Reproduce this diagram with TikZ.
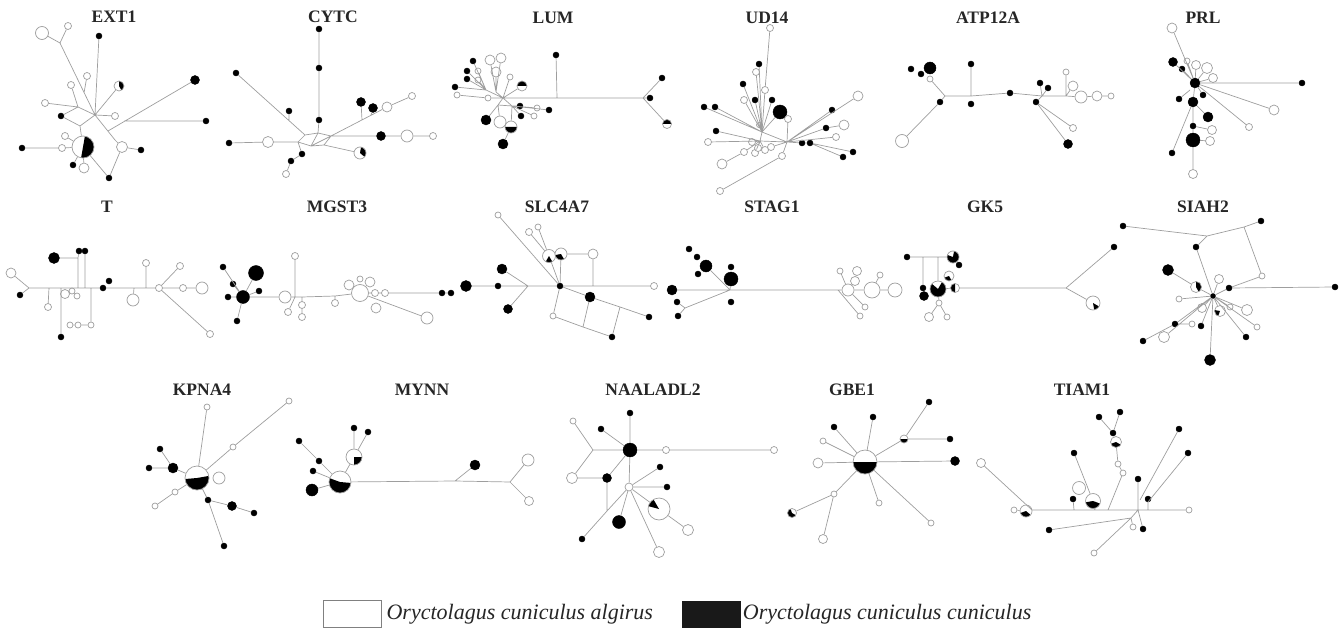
\documentclass[tikz,border=0pt]{standalone}
\usepackage{fontspec}
\setmainfont{Liberation Serif}
\usetikzlibrary{positioning}
\definecolor{linegray}{gray}{0.62}
\tikzset{
  link/.style={draw=linegray, line width=0.7pt},
  wo/.style={circle, draw=linegray, fill=white, line width=0.7pt, inner sep=0pt, minimum size=#1},
  wo/.default=7pt,
  bk/.style={circle, draw=black, fill=black, inner sep=0pt, minimum size=#1},
  bk/.default=6pt,
  pie/.style n args={3}{wo=#1, path picture={\fill[black] (path picture bounding box.center) -- ++(#2:30pt) arc[start angle=#2, end angle=#3, radius=30pt] -- cycle;}},
  title/.style={font=\fontsize{17.5}{17.5}\selectfont\bfseries, text=black!85},
  legtext/.style={font=\fontsize{22}{22}\selectfont\itshape, text=black!85, inner sep=0pt}
}
\begin{document}
\begin{tikzpicture}[x=1pt, y=-1pt]
\useasboundingbox (0, 0) rectangle (1343, 631);

% EXT1
\node[title] at (114, 17) (extT) {EXT1};
\coordinate (extj1) at (60, 43);
\coordinate (exth) at (95, 115);
\coordinate (extj2) at (84, 93);
\coordinate (extj3) at (78, 107);
\coordinate (extj4) at (80, 126);
\coordinate (extj5) at (108, 131);
\coordinate (extj6) at (115, 140);
\coordinate (extj7) at (124, 121);
\node[wo=13pt] at (42, 33) (ext1) {};
\node[wo] at (68, 26) (ext2) {};
\node[bk] at (99, 36) (ext3) {};
\node[wo] at (87, 76) (ext4) {};
\node[wo] at (71, 85) (ext5) {};
\node[wo] at (45, 103) (ext6) {};
\node[bk] at (61, 116) (ext7) {};
\node[pie={22pt}{80}{-100}] at (83, 147) (ext8) {};
\node[wo] at (62, 148) (ext9) {};
\node[bk] at (22, 148) (ext10) {};
\node[wo] at (65, 136) (ext11) {};
\node[bk] at (73, 165) (ext12) {};
\node[wo=10pt] at (84, 168) (ext13) {};
\node[wo=11pt] at (122, 147) (ext14) {};
\node[bk] at (141, 150) (ext15) {};
\node[bk] at (109, 178) (ext16) {};
\node[pie={10pt}{90}{-60}] at (119, 86) (ext17) {};
\node[wo] at (115, 116) (ext18) {};
\node[bk=9pt] at (195, 80) (ext19) {};
\node[bk] at (206, 121) (ext20) {};
\draw[link] (ext1) -- (extj1) (ext2) -- (extj1) (extj1) -- (exth) (ext3) -- (exth)
  (ext4) -- (extj2) (ext5) -- (extj3) (ext6) -- (extj3) (extj3) -- (exth)
  (ext7) -- (extj3) (ext7) -- (extj4) (extj4) -- (exth) (extj4) -- (ext8)
  (ext8) -- (ext9) (ext9) -- (ext10) (ext11) -- (ext8) (ext12) -- (ext8) (ext13) -- (ext8)
  (exth) -- (extj6) (extj6) -- (ext14) (ext14) -- (ext15) (ext14) -- (ext16) (ext8) -- (ext16)
  (exth) -- (ext17) (exth) -- (ext18) (extj5) -- (ext19) (extj7) -- (ext20);

% CYTC
\node[title] at (333, 17) (cytT) {CYTC};
\coordinate (cytq1) at (305, 135);
\coordinate (cytq2) at (318, 133);
\coordinate (cytq3) at (331, 136);
\coordinate (cytq4) at (324, 145);
\coordinate (cytq5) at (311, 146);
\coordinate (cytq6) at (298, 142);
\coordinate (cytj1) at (289, 121);
\coordinate (cytj2) at (362, 120);
\coordinate (cytj3) at (371, 115);
\node[bk] at (319, 29) (cyt1) {};
\node[bk] at (319, 68) (cyt2) {};
\node[bk] at (319, 120) (cyt3) {};
\node[bk] at (236, 73) (cyt4) {};
\node[bk] at (289, 111) (cyt5) {};
\node[bk] at (229, 143) (cyt6) {};
\node[wo=11pt] at (268, 142) (cyt7) {};
\node[bk] at (302, 154) (cyt8) {};
\node[bk] at (291, 161) (cyt9) {};
\node[wo] at (286, 174) (cyt10) {};
\node[bk=9pt] at (381, 136) (cyt11) {};
\node[wo=12pt] at (407, 136) (cyt12) {};
\node[wo] at (433, 136) (cyt13) {};
\node[wo=10pt] at (387, 107) (cyt14) {};
\node[wo] at (412, 96) (cyt15) {};
\node[bk=9pt] at (361, 102) (cyt16) {};
\node[bk=9pt] at (373, 108) (cyt17) {};
\node[pie={12pt}{80}{-40}] at (360, 153) (cyt18) {};
\draw[link] (cyt1) -- (cyt2) -- (cyt3) -- (cytq2)
  (cytq1) -- (cytq2) -- (cytq3) -- (cytq4) -- (cytq5) -- (cytq6) -- (cytq1)
  (cytq2) -- (cytq5) (cytq3) -- (cytq5)
  (cyt4) -- (cytq1) (cyt5) -- (cytj1)
  (cyt6) -- (cyt7) -- (cytq6) (cytq6) -- (cyt8) -- (cyt9) -- (cyt10)
  (cytq3) -- (cyt11) -- (cyt12) -- (cyt13)
  (cytq3) -- (cyt14) -- (cyt15) (cyt16) -- (cytj2) (cyt17) -- (cytj3)
  (cytq4) -- (cyt18);

% LUM
\node[title] at (553, 18) (lumT) {LUM};
\coordinate (lumh) at (503, 98);
\coordinate (lumh2) at (498, 105);
\coordinate (lumh3) at (512, 106);
\coordinate (lumj1) at (557, 98);
\coordinate (lumj2) at (643, 98);
\coordinate (lumj3) at (486, 90);
\coordinate (lumj4) at (496, 92);
\node[bk] at (556, 55) (lum1) {};
\node[bk] at (662, 78) (lum2) {};
\node[bk] at (650, 98) (lum3) {};
\node[pie={9pt}{0}{180}] at (667, 124) (lum4) {};
\node[bk] at (473, 61) (lum5) {};
\node[bk] at (467, 71) (lum6) {};
\node[wo=6pt] at (478, 71) (lum7) {};
\node[bk] at (467, 79) (lum8) {};
\node[wo=6pt] at (478, 80) (lum9) {};
\node[bk] at (455, 87) (lum10) {};
\node[wo=6pt] at (457, 95) (lum11) {};
\node[wo=10pt] at (490, 60) (lum12) {};
\node[wo=10pt] at (501, 58) (lum13) {};
\node[wo=10pt] at (496, 72) (lum14) {};
\node[wo=6pt] at (510, 77) (lum15) {};
\node[pie={10pt}{0}{180}] at (522, 86) (lum16) {};
\node[wo=6pt] at (488, 98) (lum17) {};
\node[bk] at (520, 106) (lum19) {};
\node[wo=6pt] at (537, 108) (lum20) {};
\node[bk] at (549, 110) (lum21) {};
\node[bk] at (521, 116) (lum22) {};
\node[wo=6pt] at (534, 116) (lum23) {};
\node[bk=10pt] at (486, 120) (lum24) {};
\node[wo=12pt] at (500, 122) (lum25) {};
\node[pie={12pt}{180}{360}] at (511, 127) (lum26) {};
\node[bk=10pt] at (503, 144) (lum27) {};
\draw[link] (lumh) -- (lumj1) -- (lumj2) (lumj1) -- (lum1)
  (lumj2) -- (lum2) (lumj2) -- (lum3) (lumj2) -- (lum4)
  (lum5) -- (lumj3) (lum6) -- (lumj3) (lum7) -- (lumj3) (lum8) -- (lumj3) (lum9) -- (lumj3)
  (lum10) -- (lumj3) (lumj3) -- (lumh) (lum11) -- (lum17) -- (lumh)
  (lum12) -- (lumj4) (lum13) -- (lumj4) (lum14) -- (lumj4) (lumj4) -- (lumh)
  (lum15) -- (lumh) (lum16) -- (lumh) (lumh) -- (lumh2) -- (lumh3) -- (lumh)
  (lumh3) -- (lum19) (lumh3) -- (lum20) (lumh3) -- (lum21) (lumh3) -- (lum22) (lumh3) -- (lum23)
  (lumh2) -- (lum24) (lumh2) -- (lum25) (lumh3) -- (lum26) -- (lum27);

% UD14
\node[title] at (767, 18) (udT) {UD14};
\coordinate (udh1) at (762, 132);
\coordinate (udh2) at (787, 142);
\coordinate (udh3) at (760, 141);
\node[wo] at (770, 28) (ud1) {};
\node[bk] at (759, 64) (ud2) {};
\node[wo] at (756, 72) (ud3) {};
\node[wo] at (765, 90) (ud4) {};
\node[bk] at (743, 84) (ud5) {};
\node[wo] at (744, 100) (ud6) {};
\node[bk] at (755, 100) (ud7) {};
\node[bk] at (772, 100) (ud8) {};
\node[bk=14pt] at (780, 112) (ud9) {};
\node[wo] at (788, 119) (ud10) {};
\node[bk] at (704, 107) (ud11) {};
\node[bk] at (715, 107) (ud12) {};
\node[bk] at (716, 131) (ud13) {};
\node[wo] at (708, 142) (ud14) {};
\node[wo=5pt] at (759, 125) (ud15) {};
\node[wo=10pt] at (722, 164) (ud16) {};
\node[wo] at (744, 152) (ud17) {};
\node[wo] at (755, 153) (ud18) {};
\node[wo] at (765, 150) (ud19) {};
\node[wo] at (771, 147) (ud20) {};
\node[wo] at (782, 156) (ud21) {};
\node[wo] at (720, 191) (ud22) {};
\node[wo] at (752, 142) (ud23) {};
\node[wo] at (758, 148) (ud24) {};
\node[wo=10pt] at (858, 96) (ud25) {};
\node[bk] at (832, 110) (ud26) {};
\node[bk] at (826, 128) (ud27) {};
\node[wo=10pt] at (844, 125) (ud28) {};
\node[wo] at (836, 137) (ud29) {};
\node[bk] at (802, 143) (ud30) {};
\node[bk] at (810, 143) (ud31) {};
\node[bk] at (843, 157) (ud32) {};
\node[bk] at (853, 152) (ud33) {};
\draw[link] (ud1) -- (ud4) -- (udh1) (ud2) -- (udh1) (ud3) -- (udh1) (ud5) -- (udh1)
  (ud6) -- (udh1) (ud7) -- (udh1) (ud8) -- (udh1) (ud9) -- (udh1) (ud10) -- (udh2)
  (ud11) -- (udh1) (ud12) -- (udh1) (ud13) -- (udh3) (ud14) -- (udh3)
  (ud16) -- (ud17) -- (udh3) (ud18) -- (udh3) (ud19) -- (udh3) (ud20) -- (udh2)
  (ud22) -- (ud21) -- (udh2) (ud23) -- (udh3) (ud24) -- (udh3)
  (udh1) -- (udh3) -- (udh2) -- (udh1)
  (udh2) -- (ud25) (udh2) -- (ud26) (udh2) -- (ud27) -- (ud28) (udh2) -- (ud29)
  (udh2) -- (ud30) -- (ud31) -- (ud32) (ud31) -- (ud33);

% ATP12A
\node[title] at (988, 18) (atpT) {ATP12A};
\coordinate (atpj1) at (945, 96);
\coordinate (atpj2) at (971, 96);
\coordinate (atpj3) at (1042, 96);
\coordinate (atpj4) at (1066, 96);
\node[bk] at (911, 69) (atp1) {};
\node[bk=12pt] at (930, 68) (atp2) {};
\node[bk] at (921, 74) (atp3) {};
\node[wo=6pt] at (930, 79) (atp4) {};
\node[bk] at (940, 102) (atp5) {};
\node[wo=13pt] at (902, 141) (atp6) {};
\node[bk] at (971, 64) (atp7) {};
\node[bk] at (971, 104) (atp8) {};
\node[bk] at (1010, 93) (atp9) {};
\node[bk] at (1040, 83) (atp10) {};
\node[bk] at (1048, 88) (atp11) {};
\node[bk] at (1036, 102) (atp12) {};
\node[wo=6pt] at (1066, 72) (atp13) {};
\node[wo=10pt] at (1073, 86) (atp14) {};
\node[wo=12pt] at (1081, 97) (atp15) {};
\node[wo=10pt] at (1097, 96) (atp16) {};
\node[wo=6pt] at (1111, 96) (atp17) {};
\node[wo=7pt] at (1073, 128) (atp18) {};
\node[bk=9pt] at (1068, 144) (atp19) {};
\draw[link] (atp4) -- (atpj1) -- (atp5) -- (atp6)
  (atpj1) -- (atpj2) -- (atp9) -- (atpj3) -- (atpj4) -- (atp15) -- (atp16) -- (atp17)
  (atp7) -- (atpj2) (atp10) -- (atpj3) (atp11) -- (atpj3) (atp12) -- (atpj3)
  (atp13) -- (atpj4) (atp14) -- (atpj4) (atp12) -- (atp18) (atp12) -- (atp19);

% PRL
\node[title] at (1203, 18) (prlT) {PRL};
\coordinate (prlj) at (1190, 90);
\node[bk=10pt] at (1195, 83) (prlh) {};
\node[wo=10pt] at (1172, 28) (prl1) {};
\node[bk=9pt] at (1173, 62) (prl2) {};
\node[bk] at (1182, 69) (prl3) {};
\node[wo=6pt] at (1187, 61) (prl4) {};
\node[wo=9pt] at (1196, 65) (prl5) {};
\node[wo=11pt] at (1207, 68) (prl6) {};
\node[wo=9pt] at (1213, 78) (prl7) {};
\node[bk] at (1302, 83) (prl8) {};
\node[wo=10pt] at (1274, 110) (prl9) {};
\node[wo=7pt] at (1249, 127) (prl10) {};
\node[bk] at (1179, 99) (prl11) {};
\node[bk=10pt] at (1193, 102) (prl12) {};
\node[bk] at (1203, 95) (prl13) {};
\node[bk=10pt] at (1208, 117) (prl14) {};
\node[bk] at (1193, 126) (prl15) {};
\node[wo=9pt] at (1212, 130) (prl16) {};
\node[bk=14pt] at (1193, 140) (prl17) {};
\node[wo=9pt] at (1210, 141) (prl18) {};
\node[wo=9pt] at (1193, 174) (prl19) {};
\node[bk] at (1172, 153) (prl20) {};
\draw[link] (prl1) -- (prlh) (prl2) -- (prlh) (prl3) -- (prlh) (prl4) -- (prlh) (prl5) -- (prlh)
  (prl6) -- (prlh) (prl7) -- (prlh) (prlh) -- (prl8) (prlh) -- (prl9) (prlh) -- (prl10)
  (prl11) -- (prlj) (prlh) -- (prl12) (prlh) -- (prl13) (prl12) -- (prl14)
  (prl12) -- (prl15) -- (prl17) -- (prl19) (prl15) -- (prl16) (prl17) -- (prl18) (prl12) -- (prl20);

% T
\node[title] at (107, 207) (ttT) {T};
\coordinate (ttj0) at (29, 288);
\coordinate (ttj1) at (49, 288);
\coordinate (ttj2) at (61, 288);
\coordinate (ttj3) at (78, 288);
\coordinate (ttj4) at (85, 288);
\coordinate (ttj5) at (91, 288);
\coordinate (ttj6) at (134, 288);
\coordinate (ttj7) at (146, 288);
\coordinate (ttj8) at (157, 288);
\coordinate (ttj9) at (78, 258);
\node[wo=10pt] at (11, 273) (tt1) {};
\node[bk] at (20, 295) (tt2) {};
\node[wo] at (48, 307) (tt3) {};
\node[bk=11pt] at (54, 258) (tt4) {};
\node[bk] at (79, 251) (tt5) {};
\node[bk] at (85, 251) (tt6) {};
\node[bk] at (61, 337) (tt7) {};
\node[wo=9pt] at (65, 294) (tt8) {};
\node[wo=6pt] at (72, 291) (tt9) {};
\node[wo=6pt] at (77, 296) (tt10) {};
\node[wo=6pt] at (70, 325) (tt11) {};
\node[wo=6pt] at (78, 325) (tt12) {};
\node[wo=6pt] at (91, 325) (tt13) {};
\node[bk] at (103, 288) (tt14) {};
\node[bk] at (109, 281) (tt15) {};
\node[wo=12pt] at (133, 300) (tt16) {};
\node[wo] at (146, 263) (tt17) {};
\node[wo] at (159, 288) (tt18) {};
\node[wo] at (180, 266) (tt19) {};
\node[wo] at (183, 288) (tt20) {};
\node[wo=12pt] at (202, 288) (tt21) {};
\node[wo] at (210, 334) (tt22) {};
\draw[link] (tt1) -- (ttj0) (tt2) -- (ttj0)
  (ttj0) -- (ttj1) -- (ttj2) -- (ttj3) -- (ttj4) -- (ttj5) -- (tt14) -- (ttj6) -- (ttj7) -- (tt18) -- (tt20) -- (tt21)
  (ttj1) -- (tt3) (tt4) -- (ttj9) (tt5) -- (ttj9) -- (ttj3) (tt6) -- (ttj4) (ttj2) -- (tt7)
  (tt8) -- (tt9) -- (tt10) (tt11) -- (tt12) -- (tt13) -- (ttj5)
  (ttj6) -- (tt16) (tt17) -- (ttj7) (tt18) -- (tt19) (tt18) -- (tt22);

% MGST3
\node[title] at (337, 207) (mgT) {MGST3};
\coordinate (mgj1) at (295, 297);
\coordinate (mgj2) at (302, 297);
\coordinate (mgj3) at (335, 296);
\node[bk=13pt] at (243, 297) (mg1) {};
\node[bk] at (223, 267) (mg2) {};
\node[bk] at (233, 284) (mg3) {};
\node[bk] at (228, 297) (mg4) {};
\node[bk] at (237, 321) (mg5) {};
\node[bk=15pt] at (256, 273) (mg6) {};
\node[bk] at (259, 291) (mg7) {};
\node[wo=12pt] at (285, 297) (mg8) {};
\node[wo] at (295, 256) (mg9) {};
\node[wo] at (288, 312) (mg10) {};
\node[wo] at (302, 305) (mg11) {};
\node[wo] at (302, 317) (mg12) {};
\node[wo] at (335, 303) (mg13) {};
\node[wo=17pt] at (360, 293) (mg14) {};
\node[wo=10pt] at (349, 285) (mg15) {};
\node[wo=6pt] at (360, 279) (mg16) {};
\node[wo=10pt] at (370, 282) (mg17) {};
\node[wo] at (375, 293) (mg18) {};
\node[wo] at (385, 293) (mg19) {};
\node[wo=10pt] at (376, 308) (mg20) {};
\node[wo=12pt] at (427, 318) (mg21) {};
\node[bk] at (442, 293) (mg22) {};
\node[bk] at (451, 293) (mg23) {};
\draw[link] (mg2) -- (mg1) (mg3) -- (mg1) (mg4) -- (mg1) (mg5) -- (mg1) (mg6) -- (mg1) (mg7) -- (mg1)
  (mg1) -- (mg8) -- (mgj1) -- (mgj2) -- (mgj3) -- (mg14) -- (mg18) -- (mg19) -- (mg22) -- (mg23)
  (mgj1) -- (mg9) (mgj1) -- (mg10) (mgj2) -- (mg11) -- (mg12) (mgj3) -- (mg13)
  (mg14) -- (mg21);

% SLC4A7
\node[title] at (557, 207) (slcT) {SLC4A7};
\coordinate (slcj1) at (528, 286);
\coordinate (slcj2) at (593, 286);
\coordinate (slcj3) at (620, 307);
\coordinate (slcj4) at (583, 327);
\node[bk=11pt] at (466, 286) (slc1) {};
\node[bk] at (498, 286) (slc2) {};
\node[bk=10pt] at (502, 269) (slc3) {};
\node[bk=9pt] at (508, 309) (slc4) {};
\node[bk] at (560, 286) (slc5) {};
\node[wo=6pt] at (498, 215) (slc6) {};
\node[wo] at (529, 232) (slc7) {};
\node[wo=6pt] at (538, 227) (slc8) {};
\node[pie={13pt}{240}{300}] at (549, 256) (slc9) {};
\node[pie={12pt}{190}{300}] at (561, 254) (slc10) {};
\node[wo=10pt] at (593, 254) (slc11) {};
\node[wo] at (654, 286) (slc12) {};
\node[bk=10pt] at (590, 297) (slc13) {};
\node[bk] at (649, 317) (slc14) {};
\node[wo=6pt] at (553, 316) (slc15) {};
\node[bk] at (612, 337) (slc16) {};
\draw[link] (slc1) -- (slc2) -- (slcj1) -- (slc5) -- (slcj2) -- (slc12)
  (slc3) -- (slcj1) (slc4) -- (slcj1) (slc6) -- (slc5)
  (slc7) -- (slc9) (slc8) -- (slc9) (slc9) -- (slc5) (slc10) -- (slc5)
  (slc10) -- (slc11) -- (slcj2)
  (slc5) -- (slc13) -- (slcj3) -- (slc14)
  (slc5) -- (slc15) -- (slcj4) -- (slc16) -- (slcj3) (slcj4) -- (slc13);

% STAG1
\node[title] at (772, 207) (stgT) {STAG1};
\coordinate (stgh) at (730, 290);
\coordinate (stgj1) at (685, 308);
\coordinate (stgj2) at (838, 290);
\node[bk] at (689, 249) (stg1) {};
\node[bk] at (697, 257) (stg2) {};
\node[bk=12pt] at (706, 266) (stg3) {};
\node[bk] at (698, 274) (stg4) {};
\node[bk=14pt] at (731, 279) (stg5) {};
\node[bk] at (731, 267) (stg6) {};
\node[bk] at (731, 302) (stg7) {};
\node[bk=10pt] at (672, 290) (stg8) {};
\node[bk] at (677, 302) (stg9) {};
\node[bk] at (678, 316) (stg10) {};
\node[wo=12pt] at (848, 290) (stg11) {};
\node[wo=16pt] at (872, 290) (stg12) {};
\node[wo=12pt] at (895, 290) (stg13) {};
\node[wo=6pt] at (840, 271) (stg14) {};
\node[wo=9pt] at (857, 271) (stg15) {};
\node[wo=9pt] at (855, 281) (stg16) {};
\node[wo=6pt] at (880, 275) (stg17) {};
\node[wo=6pt] at (865, 307) (stg18) {};
\node[wo=6pt] at (860, 316) (stg19) {};
\draw[link] (stg3) -- (stgh) (stg5) -- (stgh) (stg8) -- (stgh) (stgj1) -- (stgh)
  (stg9) -- (stgj1) (stg10) -- (stgj1)
  (stgh) -- (stgj2) -- (stg11) -- (stg12) -- (stg13)
  (stg11) -- (stg14) (stg11) -- (stg16) -- (stg15) (stg12) -- (stg17) (stg11) -- (stg18) (stgj2) -- (stg19);

% GK5
\node[title] at (985, 207) (gkT) {GK5};
\coordinate (gkj1) at (923, 257);
\coordinate (gkj2) at (938, 257);
\coordinate (gkj3) at (1066, 288);
\node[wo=14pt] at (895, 290) (gk1) {};
\node[bk] at (907, 257) (gk2) {};
\node[pie={12pt}{80}{-200}] at (953, 257) (gk3) {};
\node[bk] at (959, 265) (gk4) {};
\node[pie={10pt}{200}{300}] at (949, 276) (gk5) {};
\node[pie={16pt}{60}{-220}] at (938, 289) (gk6) {};
\node[bk] at (923, 288) (gk7) {};
\node[bk=9pt] at (924, 296) (gk8) {};
\node[pie={9pt}{90}{270}] at (955, 288) (gk9) {};
\node[wo=6pt] at (939, 303) (gk10) {};
\node[wo=9pt] at (929, 317) (gk11) {};
\node[wo=6pt] at (947, 317) (gk12) {};
\node[bk] at (1114, 247) (gk13) {};
\node[pie={14pt}{-30}{-80}] at (1093, 303) (gk14) {};
\draw[link] (gk2) -- (gkj1) -- (gkj2) -- (gk3) (gkj1) -- (gk7) (gkj2) -- (gk6)
  (gk6) -- (gk9) -- (gkj3) (gk6) -- (gk10) -- (gk11) (gk10) -- (gk12)
  (gkj3) -- (gk13) (gkj3) -- (gk14);

% SIAH2
\node[title] at (1203, 207) (siaT) {SIAH2};
\coordinate (siaj1) at (1207, 236);
\coordinate (siaj2) at (1244, 227);
\node[bk=5pt] at (1213, 296) (siah) {};
\node[bk] at (1123, 226) (sia1) {};
\node[bk] at (1261, 221) (sia2) {};
\node[bk] at (1196, 247) (sia3) {};
\node[wo=6pt] at (1262, 276) (sia4) {};
\node[bk] at (1229, 288) (sia5) {};
\node[bk] at (1335, 287) (sia6) {};
\node[bk=11pt] at (1168, 270) (sia7) {};
\node[pie={11pt}{90}{-60}] at (1196, 287) (sia8) {};
\node[wo=9pt] at (1219, 279) (sia9) {};
\node[wo=6pt] at (1179, 299) (sia10) {};
\node[wo=9pt] at (1202, 308) (sia11) {};
\node[pie={11pt}{170}{250}] at (1220, 311) (sia12) {};
\node[wo=6pt] at (1230, 307) (sia13) {};
\node[wo=11pt] at (1247, 310) (sia14) {};
\node[wo=6pt] at (1257, 327) (sia15) {};
\node[bk] at (1246, 337) (sia16) {};
\node[bk] at (1175, 324) (sia17) {};
\node[wo=6pt] at (1192, 324) (sia18) {};
\node[bk] at (1201, 326) (sia19) {};
\node[wo=11pt] at (1164, 337) (sia20) {};
\node[bk] at (1143, 341) (sia21) {};
\node[bk=11pt] at (1210, 360) (sia22) {};
\draw[link] (sia1) -- (siaj1) -- (siaj2) -- (sia2) (siaj1) -- (sia3) -- (siah)
  (siaj2) -- (sia4) -- (sia5) -- (sia6) (siah) -- (sia5)
  (sia7) -- (sia8) -- (siah) (sia9) -- (siah) (sia10) -- (siah) (sia11) -- (siah)
  (sia12) -- (siah) (sia13) -- (siah) (sia14) -- (siah) (sia15) -- (siah) (sia16) -- (siah)
  (siah) -- (sia17) -- (sia21) (sia17) -- (sia18) (siah) -- (sia19) (siah) -- (sia22) (siah) -- (sia20);

% KPNA4
\node[title] at (202, 390) (kpT) {KPNA4};
\node[pie={24pt}{185}{370}] at (197, 478) (kp1) {};
\node[wo=12pt] at (219, 478) (kp2) {};
\node[wo=6pt] at (207, 407) (kp3) {};
\node[wo=6pt] at (289, 401) (kp4) {};
\node[wo=6pt] at (233, 447) (kp5) {};
\node[bk] at (160, 449) (kp6) {};
\node[bk=10pt] at (173, 468) (kp7) {};
\node[bk] at (149, 468) (kp8) {};
\node[wo=6pt] at (175, 492) (kp9) {};
\node[wo=6pt] at (155, 506) (kp10) {};
\node[bk] at (208, 500) (kp11) {};
\node[bk=9pt] at (232, 506) (kp12) {};
\node[bk] at (254, 513) (kp13) {};
\node[bk] at (224, 546) (kp14) {};
\draw[link] (kp3) -- (kp1) (kp4) -- (kp5) -- (kp1) (kp6) -- (kp7) -- (kp1) (kp8) -- (kp7)
  (kp1) -- (kp9) -- (kp10) (kp1) -- (kp11) -- (kp12) -- (kp13) (kp11) -- (kp14);

% MYNN
\node[title] at (422, 390) (myT) {MYNN};
\coordinate (myj1) at (455, 481);
\coordinate (myj2) at (510, 482);
\node[pie={22pt}{160}{355}] at (340, 482) (my1) {};
\node[pie={16pt}{270}{360}] at (354, 457) (my2) {};
\node[bk] at (354, 428) (my3) {};
\node[bk] at (368, 432) (my4) {};
\node[bk] at (299, 441) (my5) {};
\node[bk] at (319, 461) (my6) {};
\node[bk] at (313, 471) (my7) {};
\node[bk=12pt] at (312, 490) (my8) {};
\node[bk=10pt] at (475, 465) (my9) {};
\node[wo=12pt] at (528, 460) (my10) {};
\node[wo=9pt] at (529, 501) (my11) {};
\draw[link] (my3) -- (my2) (my4) -- (my2) (my2) -- (my1)
  (my5) -- (my6) -- (my1) (my7) -- (my1) (my8) -- (my1)
  (my1) -- (myj1) -- (myj2) (myj1) -- (my9) (myj2) -- (my10) (myj2) -- (my11);

% NAALADL2
\node[title] at (653, 390) (naT) {NAALADL2};
\coordinate (naj1) at (593, 450);
\coordinate (naj2) at (607, 511);
\node[bk=14pt] at (630, 450) (na1) {};
\node[bk] at (630, 413) (na2) {};
\node[bk] at (601, 429) (na3) {};
\node[wo=6pt] at (573, 421) (na4) {};
\node[wo=11pt] at (572, 478) (na5) {};
\node[bk=9pt] at (607, 478) (na6) {};
\node[wo=8pt] at (629, 487) (na7) {};
\node[wo=7pt] at (666, 450) (na8) {};
\node[wo=7pt] at (774, 450) (na9) {};
\node[bk] at (660, 467) (na10) {};
\node[bk] at (667, 487) (na11) {};
\node[pie={22pt}{120}{165}] at (659, 509) (na12) {};
\node[wo=11pt] at (688, 530) (na13) {};
\node[bk=13pt] at (619, 522) (na14) {};
\node[bk] at (582, 539) (na15) {};
\node[wo=11pt] at (659, 552) (na16) {};
\draw[link] (na2) -- (na1) (na3) -- (na1) (na4) -- (naj1) -- (na1) (naj1) -- (na5) -- (na6) -- (na1)
  (na6) -- (naj2) (na1) -- (na8) -- (na9) (na1) -- (na7)
  (na7) -- (na10) (na7) -- (na11) (na7) -- (na12) -- (na13) (na7) -- (na14)
  (na7) -- (naj2) -- (na15) (na7) -- (na16);

% GBE1
\node[title] at (852, 390) (gbT) {GBE1};
\coordinate (gbj1) at (834, 494);
\node[pie={24pt}{180}{360}] at (865, 462) (gb1) {};
\node[bk] at (834, 427) (gb2) {};
\node[bk] at (873, 417) (gb3) {};
\node[pie={8pt}{180}{360}] at (904, 439) (gb4) {};
\node[bk] at (929, 402) (gb5) {};
\node[bk] at (950, 439) (gb6) {};
\node[wo=6pt] at (823, 441) (gb7) {};
\node[wo=10pt] at (818, 463) (gb8) {};
\node[bk=9pt] at (955, 461) (gb9) {};
\node[wo=6pt] at (834, 494) (gb10) {};
\node[pie={9pt}{110}{330}] at (792, 513) (gb11) {};
\node[wo=9pt] at (823, 539) (gb12) {};
\node[wo=6pt] at (879, 503) (gb13) {};
\node[wo=6pt] at (931, 523) (gb14) {};
\draw[link] (gb2) -- (gb1) (gb3) -- (gb1) (gb4) -- (gb1) (gb5) -- (gb4) (gb4) -- (gb6)
  (gb7) -- (gb1) (gb8) -- (gb1) (gb1) -- (gb9) (gb1) -- (gb10) -- (gb11) (gb10) -- (gb12)
  (gb1) -- (gb13) (gb1) -- (gb14);

% TIAM1
\node[title] at (1082, 390) (tiT) {TIAM1};
\coordinate (tij1) at (1032, 510);
\coordinate (tij2) at (1108, 510);
\coordinate (tij3) at (1138, 510);
\coordinate (tij4) at (1074, 510);
\coordinate (tij5) at (1095, 510);
\coordinate (tij6) at (1140, 500);
\coordinate (tij7) at (1148, 502);
\coordinate (tij8) at (1148, 510);
\coordinate (tij9) at (1131, 518);
\node[wo=6pt] at (1014, 510) (ti1) {};
\node[pie={12pt}{200}{320}] at (1026, 511) (ti2) {};
\node[wo=9pt] at (981, 463) (ti3) {};
\node[bk] at (1074, 453) (ti4) {};
\node[wo=13pt] at (1079, 488) (ti5) {};
\node[pie={15pt}{190}{340}] at (1093, 501) (ti6) {};
\node[bk] at (1073, 499) (ti7) {};
\node[bk] at (1099, 417) (ti8) {};
\node[bk] at (1120, 412) (ti9) {};
\node[bk] at (1113, 433) (ti10) {};
\node[pie={11pt}{200}{330}] at (1116, 442) (ti11) {};
\node[wo=6pt] at (1118, 464) (ti12) {};
\node[wo=6pt] at (1123, 473) (ti13) {};
\node[bk] at (1138, 479) (ti14) {};
\node[bk] at (1179, 429) (ti15) {};
\node[bk] at (1188, 453) (ti16) {};
\node[bk] at (1148, 499) (ti17) {};
\node[wo=6pt] at (1133, 527) (ti18) {};
\node[wo=6pt] at (1189, 510) (ti19) {};
\node[bk] at (1143, 529) (ti20) {};
\node[bk] at (1049, 530) (ti21) {};
\node[wo=6pt] at (1094, 553) (ti22) {};
\draw[link] (ti1) -- (ti2) -- (tij1) -- (tij4) -- (tij5) -- (tij2) -- (tij3) -- (tij8) -- (ti19)
  (ti3) -- (tij1) (ti4) -- (ti6) -- (tij5) (ti7) -- (tij4)
  (ti8) -- (ti10) (ti9) -- (ti10) (ti10) -- (ti11) -- (ti12) -- (ti13) -- (tij2)
  (ti14) -- (tij3) (ti15) -- (tij6) (ti16) -- (tij7) (ti17) -- (tij8)
  (tij3) -- (tij9) (tij9) -- (ti18) (tij3) -- (ti20) (tij9) -- (ti21) (tij9) -- (ti22);

% Legend
\node[draw=gray, fill=white, line width=0.8pt, minimum width=58pt, minimum height=27pt, inner sep=0pt] at (352, 614) (legA) {};
\node[legtext, right=5pt of legA] (legAt) {Oryctolagus cuniculus algirus};
\node[fill=black!90, minimum width=59pt, minimum height=27pt, inner sep=0pt] at (711, 614) (legB) {};
\node[legtext, right=2pt of legB] (legBt) {Oryctolagus cuniculus cuniculus};
\end{tikzpicture}
\end{document}
